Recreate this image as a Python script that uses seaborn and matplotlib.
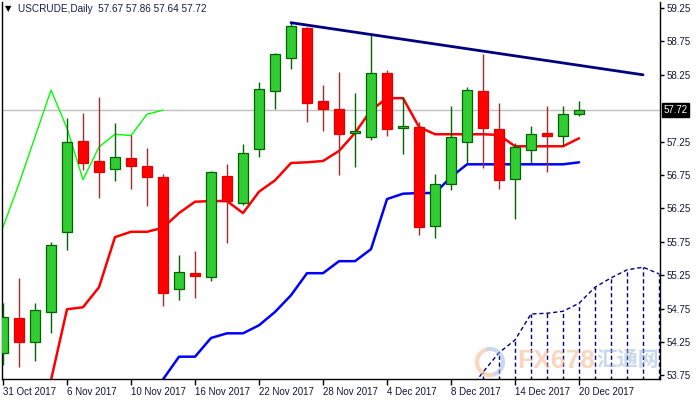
import matplotlib
matplotlib.use("Agg")
import matplotlib.pyplot as plt
from matplotlib.patches import Arc
import numpy as np
import pandas as pd
import seaborn as sns

# ---------------- data ----------------
dates = ["31 Oct", "1 Nov", "2 Nov", "3 Nov", "6 Nov", "7 Nov", "8 Nov", "9 Nov", "10 Nov",
         "13 Nov", "14 Nov", "15 Nov", "16 Nov", "17 Nov", "20 Nov", "21 Nov", "22 Nov",
         "23 Nov", "24 Nov", "27 Nov", "28 Nov", "29 Nov", "30 Nov", "1 Dec", "4 Dec",
         "5 Dec", "6 Dec", "7 Dec", "8 Dec", "11 Dec", "12 Dec", "13 Dec", "14 Dec",
         "15 Dec", "18 Dec", "19 Dec", "20 Dec"]
opens = [54.09, 54.61, 54.25, 54.70, 55.90, 57.26, 56.96, 56.84, 57.00, 56.88, 56.72, 55.04,
         55.28, 55.22, 56.73, 56.33, 57.14, 58.01, 58.50, 58.95, 57.86, 57.74, 57.38, 57.32,
         58.28, 57.45, 57.47, 55.99, 56.62, 57.24, 58.01, 57.44, 56.69, 57.12, 57.38, 57.33,
         57.67]
highs = [54.83, 55.21, 54.83, 55.75, 57.60, 57.68, 57.92, 57.53, 57.35, 57.15, 56.77, 55.55,
         55.61, 56.81, 56.91, 57.21, 58.14, 58.58, 59.03, 58.97, 58.10, 58.29, 57.98, 58.88,
         58.32, 57.92, 57.54, 56.77, 57.78, 58.07, 58.56, 57.83, 57.23, 57.48, 57.78, 57.78,
         57.86]
lows = [53.91, 53.88, 53.97, 54.39, 55.63, 56.83, 56.41, 56.66, 56.54, 56.29, 54.79, 54.88,
        54.91, 55.16, 55.73, 56.30, 57.02, 57.74, 58.34, 57.54, 57.41, 56.75, 56.87, 57.27,
        57.33, 57.06, 55.85, 55.81, 56.53, 56.91, 56.85, 56.54, 56.09, 56.93, 56.79, 57.18,
        57.64]
closes = [54.62, 54.25, 54.73, 55.70, 57.24, 56.93, 56.79, 57.02, 56.88, 56.72, 54.98, 55.30,
          55.24, 56.79, 56.36, 57.08, 58.04, 58.56, 58.98, 57.83, 57.74, 57.36, 57.41, 58.28,
          57.44, 57.48, 55.97, 56.62, 57.32, 58.02, 57.45, 56.68, 57.17, 57.36, 57.34, 57.66,
          57.72]
nan = np.nan
tenkan = [nan, nan, nan, 53.68, 54.74, 54.77, 55.07, 55.82, 55.90, 55.90, 55.96, 56.18,
          56.35, 56.36, 56.36, 56.18, 56.50, 56.67, 56.93, 56.94, 56.96, 57.11, 57.38, 57.72,
          57.90, 57.90, 57.47, 57.36, 57.36, 57.36, 57.36, 57.35, 57.18, 57.18, 57.18, 57.18,
          57.30]
kijun = [nan, nan, nan, nan, nan, nan, nan, nan, nan, nan, 53.69, 54.03, 54.03, 54.31, 54.38,
         54.38, 54.50, 54.70, 54.95, 55.28, 55.28, 55.46, 55.46, 55.64, 56.39, 56.47, 56.48,
         56.48, 56.72, 56.91, 56.91, 56.91, 56.91, 56.91, 56.91, 56.91, 56.94]
chikou_shift = 26
span_bars = [29, 30, 31, 32, 33, 34, 35, 36, 37, 38, 39, 40, 41]
span_vals = [53.48, 53.80, 54.09, 54.28, 54.67, 54.68, 54.71, 54.83, 55.07, 55.21, 55.33,
             55.37, 55.27]
trend_bars = [18, 40]
trend_vals = [59.03, 58.25]
tick_bars = [0, 4, 8, 12, 16, 20, 24, 28, 32, 36]
tick_labels = ["31 Oct 2017", "6 Nov 2017", "10 Nov 2017", "16 Nov 2017", "22 Nov 2017",
               "28 Nov 2017", "4 Dec 2017", "8 Dec 2017", "14 Dec 2017", "20 Dec 2017"]
y_ticks = [59.25, 58.75, 58.25, 57.25, 56.75, 56.25, 55.75, 55.25, 54.75, 54.25, 53.75]
last_price = 57.72
symbol_text = "USCRUDE,Daily  57.67 57.86 57.64 57.72"

# ---------------- style ----------------
sns.set_style("white")
plt.rcParams["font.family"] = ["Liberation Sans", "DejaVu Sans"]

fig = plt.figure(figsize=(7, 4), dpi=100)
ax = fig.add_axes([2 / 700, 21 / 400, 658 / 700, 377 / 400])

x = np.arange(len(closes))
df = pd.DataFrame({"x": x, "open": opens, "high": highs, "low": lows, "close": closes,
                   "tenkan": tenkan, "kijun": kijun})
df["chikou"] = df["close"].shift(-chikou_shift)

YLO, YHI = 53.696, 59.34

# current price line
ax.axhline(last_price, color="#C0C0C0", lw=1, zorder=1)

# ichimoku lines (under candles)
sns.lineplot(data=df, x="x", y="chikou", ax=ax, color="#00FF00", lw=1, zorder=2, legend=False)
sns.lineplot(data=df, x="x", y="tenkan", ax=ax, color="#FF0000", lw=1.8, zorder=2, legend=False)
sns.lineplot(data=df, x="x", y="kijun", ax=ax, color="#0000FF", lw=1.8, zorder=2, legend=False)

# cloud (upper span visible, lower span off-chart)
sns.lineplot(x=span_bars, y=span_vals, ax=ax, color="#000080", lw=1,
             linestyle=(0, (3, 2)), zorder=2, legend=False)
ax.vlines(span_bars, YLO - 1, span_vals, colors="#000080", lw=1,
          linestyles=(0, (3, 2)), zorder=2)

# candles
w = 0.67
for i in range(len(closes)):
    o, h, l, c = opens[i], highs[i], lows[i], closes[i]
    up = c >= o
    wick = "#006400" if up else "#A52A2A"
    face = "#32CD32" if up else "#FF0000"
    edge = "#006400" if up else "#E00000"
    ax.vlines(i, l, h, colors=wick, lw=1, zorder=3)
    height = max(abs(c - o), 0.035)
    ax.bar(i, height, bottom=min(o, c), width=w, color=face, edgecolor=edge,
           linewidth=0.9, zorder=4)

# trend line
sns.lineplot(x=trend_bars, y=trend_vals, ax=ax, color="#000080", lw=2, zorder=5, legend=False)

# axes setup
ax.set_xlim(-0.0625, 41.06)
ax.set_ylim(YLO, YHI)
ax.set_xlabel("")
ax.set_ylabel("")
ax.yaxis.tick_right()
ax.set_yticks(y_ticks)
ax.set_yticklabels([f"{v:.2f}" for v in y_ticks])
ax.set_xticks(tick_bars)
ax.set_xticklabels(tick_labels, ha="left")
ax.tick_params(axis="y", which="both", right=True, left=False, direction="out", length=3,
               width=1, pad=2, labelsize=7, colors="black", labelcolor="#141432")
ax.tick_params(axis="x", direction="out", length=4, width=1, pad=1.5, labelsize=7,
               colors="black", labelcolor="#141432", bottom=True)
for lbl in ax.get_xticklabels():
    lbl.set_horizontalalignment("left")
for s in ["left", "bottom", "right"]:
    ax.spines[s].set_visible(True)
    ax.spines[s].set_color("black")
    ax.spines[s].set_linewidth(1)
ax.spines["top"].set_visible(False)
ax.grid(False)

# current price label on axis
ax.annotate(f"{last_price:.2f}", xy=(1, last_price), xycoords=("axes fraction", "data"),
            xytext=(2.5, 0), textcoords="offset points", ha="left", va="center",
            fontsize=7, color="white",
            bbox=dict(boxstyle="square,pad=0.18", fc="black", ec="black"))

# title
fig.text(5 / 700, 1 - 9 / 400, "\u25BC", fontsize=6, color="black", va="center", ha="left",
         family=["DejaVu Sans"])
fig.text(18 / 700, 1 - 9 / 400, symbol_text, fontsize=7.2, color="#1a1a50", va="center",
         ha="left")

# watermark
fig.text(556 / 700, 1 - 361 / 400, "FX678", fontsize=19, fontweight="bold",
         color="#F6B48C", alpha=0.55, ha="center", va="center", zorder=10)
fig.text(628 / 700, 1 - 360 / 400, "汇通网", fontsize=15, fontweight="bold",
         color="#9DB8DC", alpha=0.55, ha="center", va="center", zorder=10,
         family=["Noto Sans CJK SC", "DejaVu Sans"])
fig.add_artist(Arc((490 / 700, 1 - 362 / 400), 26 / 700, 26 / 400, theta1=100, theta2=280,
                   transform=fig.transFigure, color="#F6B48C", lw=3, alpha=0.55, zorder=10))
fig.add_artist(Arc((490 / 700, 1 - 362 / 400), 26 / 700, 26 / 400, theta1=-80, theta2=100,
                   transform=fig.transFigure, color="#9DB8DC", lw=3, alpha=0.55, zorder=10))

fig.savefig("out.png", dpi=100, facecolor="white")
